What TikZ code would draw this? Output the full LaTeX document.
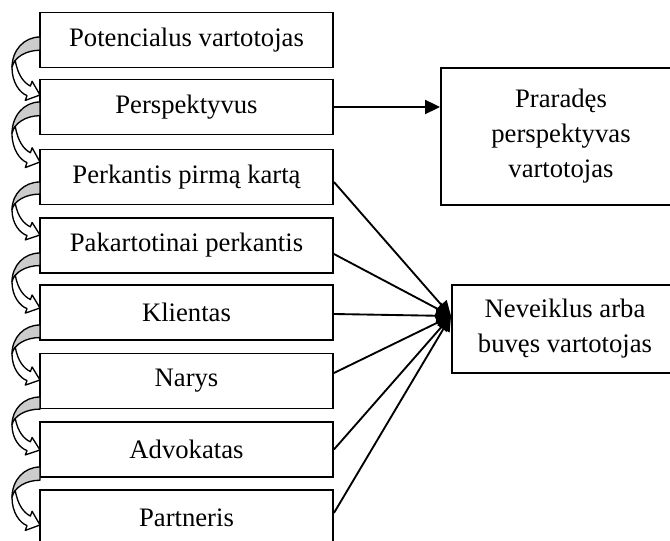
\documentclass[tikz,border=0pt]{standalone}
\usepackage{fontspec}
\setmainfont{Liberation Serif}
\usetikzlibrary{arrows.meta,calc}
\begin{document}
\begin{tikzpicture}[x=0.75pt,y=-0.75pt,
  box/.style={draw, line width=1.4pt, fill=white, minimum width=219.75pt, minimum height=41.25pt, inner sep=0pt, font=\fontsize{20}{26.25}\selectfont},
  rbox/.style={draw, line width=1.4pt, fill=white, align=center, inner sep=0pt, font=\fontsize{20}{26.25}\selectfont},
  conn/.style={line width=1.4pt, -{Triangle[length=11.25pt,width=10.5pt]}},
  backpart/.style={draw, line width=1pt, fill=black!20, line join=round},
  frontpart/.style={draw, line width=1pt, fill=white, line join=round}]
\path[use as bounding box] (0,0) rectangle (670,541);
\clip (0,0) rectangle (670,541);

\node[box] (b1) at (186.5,40) {Potencialus vartotojas};
\node[box] (b2) at (186.5,107) {Perspektyvus};
\node[box] (b3) at (186.5,177) {Perkantis pirmą kartą};
\node[box] (b4) at (186.5,245.5) {Pakartotinai perkantis};
\node[box] (b5) at (186.5,312.5) {Klientas};
\node[box] (b6) at (186.5,381) {Narys};
\node[box] (b7) at (186.5,449.5) {Advokatas};
\node[box] (b8) at (186.5,517.5) {Partneris};
\node[rbox, minimum width=180pt, minimum height=102.75pt] (r1) at (561,136.5) {Praradęs\\perspektyvas\\vartotojas};
\node[rbox, minimum width=169.5pt, minimum height=66pt] (r2) at (565,329) {Neveiklus arba\\buvęs vartotojas};

\draw[conn] (b2.east) -- (b2.east -| r1.west);
\coordinate (conv) at ($(r2.west)+(0,-13)$);
\foreach \n/\dy in {b3/5, b4/8.5, b5/1.5, b6/-8, b7/0, b8/-4.5}
  \draw[conn] ($(\n.east)+(0,\dy)$) -- (conv);

\foreach \a/\t in {37/95,102/162,182/235,253/308,325/380,397/450,467/525}{
  \begin{scope}[shift={(40,\a)}, yscale={(\t-\a)/57}]
    \path[backpart] (0,0) .. controls (-16,0) and (-28,13) .. (-28,30)
      .. controls (-26,20) and (-14,13) .. (0,13) -- cycle;
    \path[frontpart] (-28,30) .. controls (-28,45) and (-20,55) .. (-13,57.6)
      -- (-14.7,62.3) -- (0,57) -- (-7.9,43.5) -- (-9.6,48.2)
      .. controls (-16,45) and (-22,38) .. (-24.75,23.125)
      .. controls (-26.375,25.19) and (-27.5,27.5) .. (-28,30) -- cycle;
  \end{scope}}
\end{tikzpicture}
\end{document}
